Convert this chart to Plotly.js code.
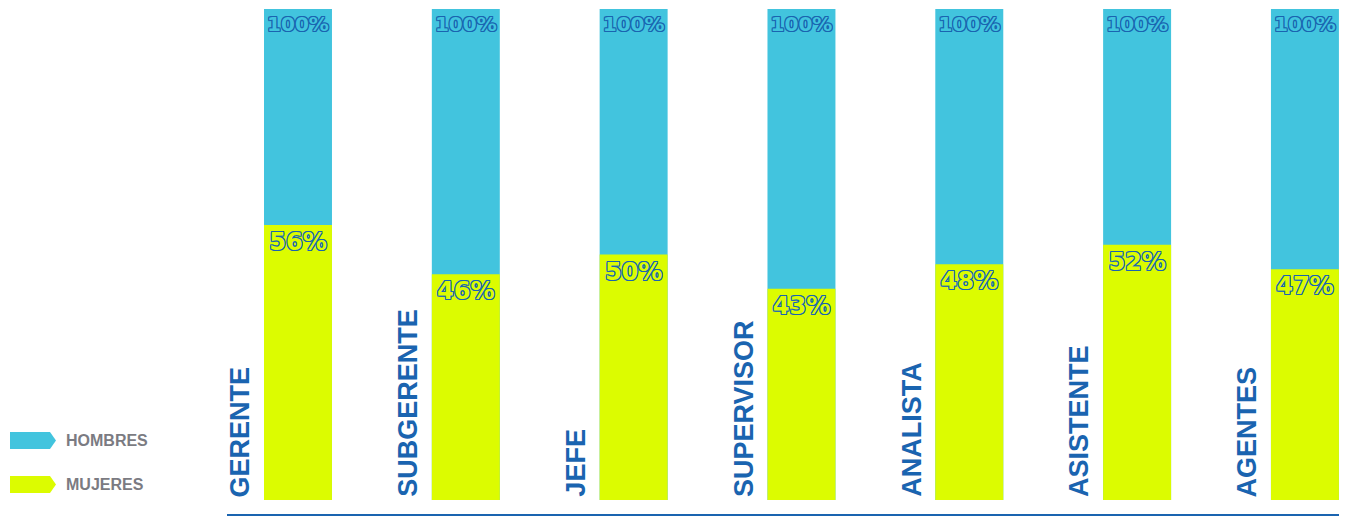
<!DOCTYPE html>
<html>
<head>
<meta charset="utf-8">
<script src="https://cdn.plot.ly/plotly-3.0.1.min.js"></script>
<style>
html,body{margin:0;padding:0;background:#fff;}
#chart{width:1350px;height:516px;}
</style>
</head>
<body>
<div id="chart"></div>
<script>
// ---- data ----
const categories = ["GERENTE", "SUBGERENTE", "JEFE", "SUPERVISOR", "ANALISTA", "ASISTENTE", "AGENTES"];
const hombresValues = [100, 100, 100, 100, 100, 100, 100];
const mujeresValues = [56, 46, 50, 43, 48, 52, 47];
const seriesNames = ["HOMBRES", "MUJERES"];

// ---- styles ----
const BLUE = "#42c4de";
const YELLOW = "#dcfc00";
const DARK = "#1a64b0";
const GRAY = "#7b7b82";
const outline = (c) => `1px 0 0 ${c}, -1px 0 0 ${c}, 0 1px 0 ${c}, 0 -1px 0 ${c}, 1px 1px 0 ${c}, -1px -1px 0 ${c}, 1px -1px 0 ${c}, -1px 1px 0 ${c}`;

const traces = [
  {
    type: "bar", name: seriesNames[0], x: categories, y: hombresValues,
    marker: {color: BLUE}, width: 0.405,
    text: hombresValues.map(v => v + "%"),
    textposition: "inside", insidetextanchor: "end", textangle: 0, constraintext: "none",
    textfont: {family: "DejaVu Sans", size: 20, weight: 700, color: BLUE, shadow: outline(DARK)},
    hoverinfo: "skip", showlegend: false
  },
  {
    type: "bar", name: seriesNames[1], x: categories, y: mujeresValues,
    marker: {color: YELLOW}, width: 0.405,
    text: mujeresValues.map(v => v + "%"),
    textposition: "inside", insidetextanchor: "end", textangle: 0, constraintext: "none",
    textfont: {family: "DejaVu Sans", size: 24, weight: 700, color: YELLOW, shadow: outline(DARK)},
    hoverinfo: "skip", showlegend: false
  }
];

const W = 1350, H = 516;
const L = 227, R = 11, T = 9, B = 16;
const pw = W - L - R, ph = H - T - B;
const px = (x) => (x - L) / pw;
const py = (y) => (H - B - y) / ph;

function arrowPath(x0, x1, xt, y0, y1) {
  const ym = (y0 + y1) / 2;
  return `M ${px(x0)} ${py(y0)} L ${px(x1)} ${py(y0)} L ${px(xt)} ${py(ym)} L ${px(x1)} ${py(y1)} L ${px(x0)} ${py(y1)} Z`;
}

const shapes = [
  {type: "line", xref: "paper", yref: "paper", x0: 0, x1: 1, y0: py(515), y1: py(515), line: {color: DARK, width: 2}},
  {type: "path", xref: "paper", yref: "paper", path: arrowPath(10, 50, 56, 432, 449), fillcolor: BLUE, line: {width: 0}},
  {type: "path", xref: "paper", yref: "paper", path: arrowPath(10, 50, 56, 476, 493), fillcolor: YELLOW, line: {width: 0}}
];

const annotations = categories.map(c => ({
  x: c, xref: "x", y: 0, yref: "y", xshift: -58, yshift: 2,
  text: c, textangle: -90, showarrow: false, xanchor: "center", yanchor: "bottom",
  font: {family: "Liberation Sans Narrow, Liberation Sans", size: 27, weight: 700, color: DARK},
  borderpad: 0
}));
annotations.push(
  {xref: "paper", yref: "paper", x: px(64), y: py(440), text: seriesNames[0], showarrow: false,
   xanchor: "left", yanchor: "middle", font: {family: "Liberation Sans", size: 16, weight: 700, color: GRAY}},
  {xref: "paper", yref: "paper", x: px(64), y: py(484), text: seriesNames[1], showarrow: false,
   xanchor: "left", yanchor: "middle", font: {family: "Liberation Sans", size: 16, weight: 700, color: GRAY}}
);

const layout = {
  width: W, height: H,
  margin: {l: L, r: R, t: T, b: B, pad: 0},
  paper_bgcolor: "#fff", plot_bgcolor: "#fff",
  barmode: "overlay",
  xaxis: {type: "category", range: [-0.423, 6.203], showticklabels: false, showgrid: false, zeroline: false, showline: false, ticks: ""},
  yaxis: {range: [0, 100], showticklabels: false, showgrid: false, zeroline: false, showline: false, ticks: ""},
  shapes: shapes,
  annotations: annotations,
  showlegend: false
};

Plotly.newPlot("chart", traces, layout, {displayModeBar: false, staticPlot: true});
</script>
</body>
</html>
